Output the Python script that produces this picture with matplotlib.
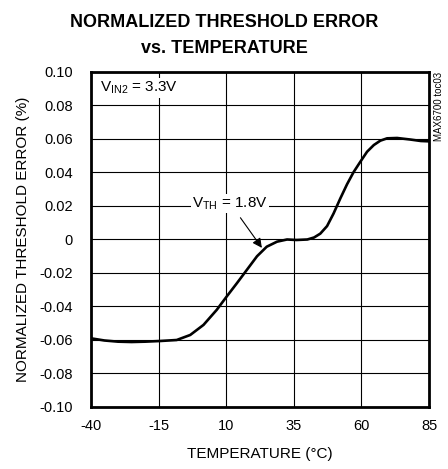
import matplotlib
matplotlib.use("Agg")
import matplotlib.pyplot as plt

plt.rcParams['font.family'] = ['Liberation Sans', 'DejaVu Sans']
plt.rcParams['axes.unicode_minus'] = False

# values
temp_c = [-40, -35, -30, -25, -20, -14.4, -8.3, -3.3, 1.6, 6.5, 10.2, 14,
          17.7, 21.4, 25, 28.8, 32.5, 36, 40, 42.5, 44.8, 47.3, 49.7, 52.2,
          54.7, 57.1, 59.6, 62.1, 64.6, 67, 69.5, 73.2, 78, 82, 85]
error_pct = [-0.059, -0.0603, -0.061, -0.0612, -0.061, -0.0606, -0.060,
             -0.057, -0.051, -0.042, -0.034, -0.026, -0.018, -0.010,
             -0.0043, -0.0013, 0.0, -0.0003, 0.0, 0.0012, 0.0035, 0.008,
             0.0155, 0.0245, 0.033, 0.0402, 0.0464, 0.0524, 0.0564, 0.059,
             0.0604, 0.0606, 0.0597, 0.0588, 0.0586]
x_ticks = [-40, -15, 10, 35, 60, 85]
y_ticks = [-0.10, -0.08, -0.06, -0.04, -0.02, 0, 0.02, 0.04, 0.06, 0.08, 0.10]
y_tick_labels = ['-0.10', '-0.08', '-0.06', '-0.04', '-0.02', '0',
                 '0.02', '0.04', '0.06', '0.08', '0.10']

fig = plt.figure(figsize=(4.48, 4.69), dpi=100)
ax = fig.add_axes([0.2031, 0.1322, 0.7545, 0.7143])

ax.plot(temp_c, error_pct, color='black', linewidth=1.9, zorder=3,
        solid_capstyle='round', solid_joinstyle='round')

ax.set_xlim(-40, 85)
ax.set_ylim(-0.10, 0.10)
ax.set_xticks(x_ticks)
ax.set_yticks(y_ticks)
ax.set_yticklabels(y_tick_labels)
ax.tick_params(length=0, labelsize=10.5)
ax.tick_params(axis='x', pad=9)
ax.tick_params(axis='y', pad=13)
ax.grid(True, color='black', linewidth=0.8)
for sp in ax.spines.values():
    sp.set_linewidth(2)

ax.set_xlabel('TEMPERATURE (°C)', fontsize=11, labelpad=10)
ax.set_ylabel('NORMALIZED THRESHOLD ERROR (%)', fontsize=11, labelpad=7)

# title, two lines placed by hand
fig.text(0.5, 0.9424, 'NORMALIZED THRESHOLD ERROR', fontsize=13,
         fontweight='bold', ha='center', va='baseline')
fig.text(0.5, 0.887, 'vs. TEMPERATURE', fontsize=13,
         fontweight='bold', ha='center', va='baseline')

ax.text(-36.8, 0.0904, r'V$_{\mathregular{IN2}}$ = 3.3V', fontsize=11,
        va='center', ha='left',
        bbox=dict(facecolor='white', edgecolor='none', pad=1))
ax.annotate(r'V$_{\mathregular{TH}}$ = 1.8V', xy=(23.2, -0.005),
            xytext=(11.5, 0.0215), fontsize=11, ha='center', va='center',
            bbox=dict(facecolor='white', edgecolor='none', pad=1),
            arrowprops=dict(arrowstyle='-|>', color='black', lw=0.8,
                            mutation_scale=14, shrinkA=4, shrinkB=0))
fig.text(0.98, 0.847, 'MAX6700 toc03', rotation=90, fontsize=7,
         ha='center', va='top')

fig.savefig('out.png', dpi=100)
